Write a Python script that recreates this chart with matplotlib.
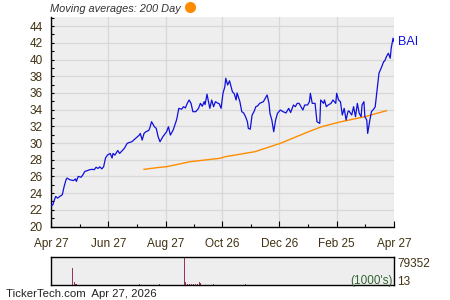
import numpy as np
import matplotlib.pyplot as plt
from matplotlib.lines import Line2D
from matplotlib.ticker import MultipleLocator

plt.rcParams['font.family'] = ['Liberation Sans', 'DejaVu Sans']

# days since Apr 27 (previous year) and closing price
price_days = [0, 2, 3, 5, 7, 10, 12, 14, 16, 17, 20, 24, 26, 27, 29, 32, 34, 36, 39, 41,
              44, 46, 48, 50, 52, 54, 56, 58, 60, 63, 65, 66, 68, 71, 73, 76, 78, 81, 83, 86,
              88, 90, 92, 94, 95, 97, 99, 101, 104, 105, 107, 110, 112, 114, 116, 119, 123, 125, 127, 130,
              133, 134, 136, 139, 141, 143, 145, 147, 149, 151, 154, 157, 159, 161, 163, 164, 166, 168, 169, 171,
              173, 175, 177, 179, 181, 183, 185, 186, 188, 190, 193, 195, 197, 198, 201, 203, 205, 207, 209, 210,
              212, 214, 216, 218, 220, 222, 226, 229, 230, 232, 233, 235, 237, 239, 241, 244, 247, 250, 253, 255,
              258, 260, 262, 264, 266, 268, 270, 273, 275, 276, 278, 281, 283, 286, 287, 290, 291, 293, 295, 298,
              300, 303, 304, 306, 308, 310, 312, 314, 316, 317, 320, 322, 324, 326, 328, 330, 331, 333, 334, 336,
              337, 339, 341, 344, 345, 347, 348, 349, 352, 354, 355, 357, 359, 361, 362, 363, 364, 365]
price = [22.45, 22.6, 23.0, 23.6, 23.4, 23.65, 23.8, 24.8, 25.6, 25.8, 25.6, 25.5, 25.7, 25.4, 26.0, 25.9, 26.2, 26.6, 26.7, 26.8,
         26.85, 26.8, 27.1, 26.95, 27.15, 26.9, 27.15, 28.2, 28.55, 28.75, 28.2, 28.75, 28.55, 29.1, 28.75, 29.1, 29.35, 29.95, 30.05, 30.15,
         30.35, 30.55, 30.75, 30.95, 31.15, 30.35, 31.15, 31.35, 31.5, 31.75, 32.55, 31.95, 31.75, 30.75, 30.15, 30.75, 31.35, 31.95, 30.95, 31.55,
         32.55, 32.95, 34.15, 34.05, 34.35, 34.2, 34.75, 35.15, 34.75, 33.75, 33.75, 34.15, 34.75, 34.4, 34.95, 34.6, 35.85, 34.75, 34.15, 35.15,
         34.35, 34.95, 34.8, 34.7, 34.15, 35.95, 36.75, 37.75, 36.95, 37.45, 36.15, 35.9, 35.15, 36.0, 34.95, 33.75, 33.6, 33.15, 32.55, 31.75,
         31.65, 33.35, 33.75, 34.35, 34.45, 34.75, 34.95, 35.55, 35.75, 34.75, 33.55, 32.75, 31.35, 32.75, 33.55, 33.95, 33.75, 33.6, 34.15, 33.65,
         34.55, 34.35, 34.75, 34.75, 34.35, 33.95, 34.55, 34.55, 34.95, 35.95, 34.75, 34.75, 32.55, 32.35, 35.15, 34.75, 35.15, 34.35, 34.55, 34.75,
         35.15, 34.75, 35.95, 35.15, 34.95, 33.35, 34.15, 32.75, 33.75, 33.85, 33.35, 34.35, 33.15, 34.75, 33.55, 33.15, 34.55, 34.95, 33.15, 32.75,
         31.15, 32.55, 33.75, 34.15, 34.35, 36.35, 37.35, 38.35, 39.15, 39.75, 39.8, 40.35, 40.75, 40.15, 41.35, 41.95, 42.55, 42.15]

# 200 day moving average
ma_days = [99, 116, 123, 148, 180, 185, 217, 244, 274, 288, 306, 334, 357]
ma_vals = [26.85, 27.09, 27.16, 27.76, 28.17, 28.35, 28.96, 29.96, 31.35, 31.95, 32.48, 33.15, 33.87]

# volume (1000's)
vol_days = [22, 24, 26, 27, 94, 115, 141, 142, 143, 145, 147, 149, 151, 153, 155, 158, 159, 172, 206, 230, 260, 290, 330]
vol_vals = [47000, 8500, 4000, 3500, 1500, 2500, 79352, 9000, 8000, 3500, 3000, 3000, 3000, 3000, 3000, 9000, 6000, 1500, 4000, 1200, 1000, 1000, 1000]

tick_days = [0, 61, 122, 182, 243, 304, 365]
tick_labels = ['Apr 27', 'Jun 27', 'Aug 27', 'Oct 26', 'Dec 26', 'Feb 25', 'Apr 27']

label_col = '#403010'
bg = '#eeeeee'

fig = plt.figure(figsize=(4.5, 3), dpi=100)

ax = fig.add_axes([51/450, 1-226.5/300, 343/450, 209.5/300])
ax.set_facecolor(bg)
ax.plot(price_days, price, color='#1010dd', lw=0.9, zorder=3)
ax.plot(ma_days, ma_vals, color='#ff8c00', lw=1.0, zorder=2)
ax.set_xlim(0, 365)
ax.set_ylim(20, 45.09)
ax.set_yticks(np.arange(20, 45, 2))
ax.yaxis.set_minor_locator(MultipleLocator(1))
ax.set_xticks(tick_days)
ax.set_xticklabels(tick_labels)
ax.set_xticks([(a + b) / 2 for a, b in zip(tick_days[:-1], tick_days[1:])], minor=True)
ax.grid(True, which='major', color='#d8d8d8', lw=0.9)
ax.set_axisbelow(True)
for s in ['top', 'right']:
    ax.spines[s].set_visible(False)
for s in ['left', 'bottom']:
    ax.spines[s].set_linewidth(1.0)
ax.tick_params(which='both', direction='in', length=2.5, width=0.8, labelsize=8.5, labelcolor=label_col)
ax.tick_params(axis='x', which='major', length=4, pad=8)
ax.tick_params(axis='y', pad=6)
ax.annotate('BAI', xy=(365, price[-1]), xytext=(3, 0), textcoords='offset points',
            va='center', ha='left', color='#1010dd', fontsize=9, annotation_clip=False)

# volume panel
vax = fig.add_axes([51/450, 1-285/300, 343/450, 28.5/300])
vax.set_facecolor(bg)
vax.vlines(vol_days, 0, vol_vals, color='#993366', lw=0.72, antialiased=False)
vax.set_xlim(0, 365)
vax.set_ylim(0, 79352)
vax.set_xticks([])
vax.set_yticks([])
for s in vax.spines.values():
    s.set_linewidth(1.0)
vax.text(1.01, 0.75, '79352', transform=vax.transAxes, ha='left', va='center', fontsize=8.5, color=label_col)
vax.text(1.01, 0.1, '13', transform=vax.transAxes, ha='left', va='center', fontsize=8.5, color=label_col)
vax.text(0.995, 0.15, "(1000's)", transform=vax.transAxes, ha='right', va='center', fontsize=8.5, color='#336633')

fig.text(50/450, 1-9/300, 'Moving averages: 200 Day', style='italic', fontsize=7.9,
         color='#333333', ha='left', va='center')
fig.add_artist(Line2D([190/450], [1-7/300], marker='o', ms=8, color='#ff8c00',
                      markeredgewidth=0, transform=fig.transFigure))
fig.text(6/450, 1-294/300, 'TickerTech.com  Apr 27, 2026', fontsize=8.2, color='#222222',
         ha='left', va='center')

fig.savefig('out.png', dpi=100)
